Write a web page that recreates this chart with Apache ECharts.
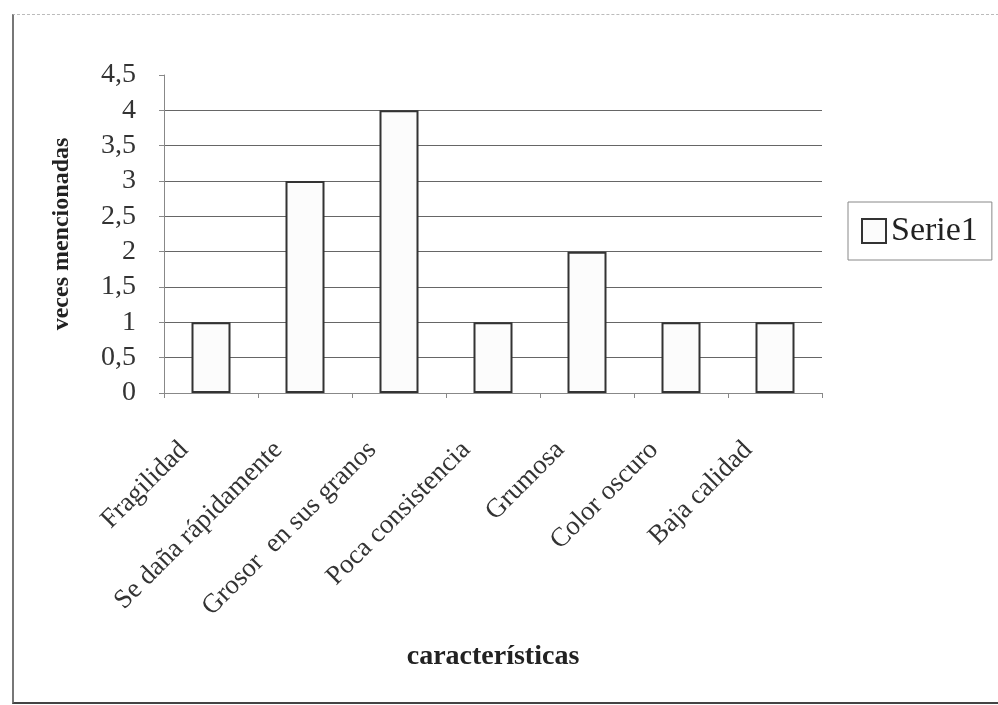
<!DOCTYPE html>
<html><head><meta charset="utf-8">
<script src="https://cdn.jsdelivr.net/npm/echarts@6/dist/echarts.min.js"></script>
<style>
html,body{margin:0;padding:0;background:#fff;}
#frame{position:absolute;left:12px;top:14px;width:1000px;height:687px;border-left:2px solid #777;border-top:1px dashed #bbb;border-bottom:2px solid #444;}
#c{position:absolute;left:0;top:0;width:998px;height:705px;}
</style></head>
<body>
<div id="frame"></div>
<div id="c"></div>
<script>
const categories = ['Fragilidad','Se daña rápidamente','Grosor  en sus granos','Poca consistencia','Grumosa','Color oscuro','Baja calidad'];
const serie1 = [1, 3, 4, 1, 2, 1, 1];
const seriesName = 'Serie1';
const xTitle = 'características';
const yTitle = 'veces mencionadas';

const chart = echarts.init(document.getElementById('c'), null, {renderer:'canvas'});
const serif = '"Liberation Serif", "DejaVu Serif", serif';
chart.setOption({
  backgroundColor: 'transparent',
  animation: false,
  grid: {left:164, right:176, top:75, bottom:312, containLabel:false},
  legend: {
    show: true, orient:'vertical', left: 848, top: 202,
    data: [seriesName],
    itemWidth: 24, itemHeight: 24, itemGap: 8,
    padding: [12, 14, 12, 13],
    borderColor: '#888', borderWidth: 1,
    textStyle: {fontFamily: serif, fontSize: 34, color:'#222'},
    icon: 'rect'
  },
  xAxis: {
    type:'category', data: categories,
    name: xTitle, nameLocation:'middle', nameGap: 250,
    nameTextStyle: {fontFamily: serif, fontSize: 28, fontWeight:'bold', color:'#222'},
    axisLine: {show:true, lineStyle:{color:'#888', width:1}},
    axisTick: {show:true, length:5, lineStyle:{color:'#888'}},
    axisLabel: {rotate:45, fontFamily: serif, fontSize: 27, color:'#333', margin: 26, padding:[0, 38, 0, 0], interval:0},
    splitLine: {show:false}
  },
  yAxis: {
    type:'value', min:0, max:4.5, interval:0.5,
    name: yTitle, nameLocation:'middle', nameGap: 90, nameRotate: 90,
    nameTextStyle: {fontFamily: serif, fontSize: 24, fontWeight:'bold', color:'#222'},
    axisLine: {show:true, lineStyle:{color:'#888', width:1}},
    axisTick: {show:true, length:5, lineStyle:{color:'#888'}},
    axisLabel: {fontFamily: serif, fontSize: 28, color:'#333', margin: 28,
      formatter: v => String(v).replace('.', ',')},
    splitLine: {show:true, lineStyle:{width:1, color:['#666','#666','#666','#666','#666','#666','#666','#666','#666','rgba(0,0,0,0)']}}
  },
  series: [{
    name: seriesName, type:'bar', data: serie1,
    barWidth: 39,
    itemStyle: {color:'#fcfcfc', borderColor:'#333', borderWidth:2}
  }]
});
</script>
</body></html>
